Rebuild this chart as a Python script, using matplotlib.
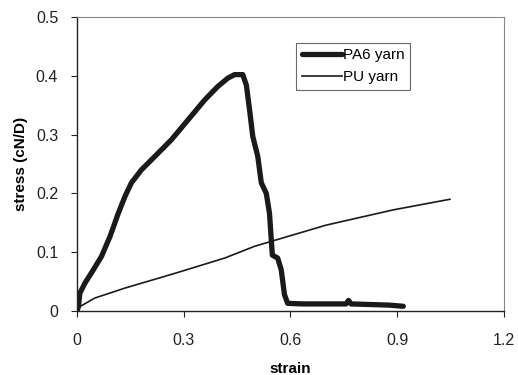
import numpy as np
import matplotlib.pyplot as plt

plt.rcParams['font.family'] = ['Liberation Sans', 'DejaVu Sans']

# PA6 yarn
pa6_strain = [0.0, 0.004, 0.008, 0.022, 0.046, 0.069, 0.093, 0.116, 0.135, 0.153,
              0.181, 0.219, 0.265, 0.312, 0.359, 0.396, 0.424, 0.443, 0.466, 0.476,
              0.485, 0.494, 0.508, 0.518, 0.532, 0.541, 0.546, 0.549, 0.564, 0.574,
              0.583, 0.592, 0.634, 0.700, 0.756, 0.763, 0.770, 0.877, 0.917]
pa6_stress = [0.0, 0.007, 0.030, 0.047, 0.070, 0.093, 0.127, 0.166, 0.195, 0.218,
              0.240, 0.263, 0.291, 0.325, 0.359, 0.382, 0.396, 0.402, 0.402, 0.384,
              0.342, 0.297, 0.263, 0.218, 0.200, 0.166, 0.121, 0.095, 0.090, 0.070,
              0.028, 0.013, 0.012, 0.012, 0.012, 0.018, 0.012, 0.010, 0.008]

# PU yarn
pu_strain = [0.0, 0.004, 0.050, 0.135, 0.275, 0.415, 0.499, 0.700, 0.889, 1.048]
pu_stress = [0.0, 0.006, 0.022, 0.039, 0.064, 0.090, 0.110, 0.146, 0.172, 0.190]

fig = plt.figure(figsize=(5.18, 3.75), dpi=100)
ax = fig.add_axes([0.1486, 0.1707, 0.8244, 0.784])

ax.plot(pa6_strain, pa6_stress, color='#1a1a1a', lw=3.8, solid_capstyle='round',
        solid_joinstyle='round', label='PA6 yarn')
ax.plot(pu_strain, pu_stress, color='#1a1a1a', lw=1.2, label='PU yarn')

ax.set_xlim(0, 1.2)
ax.set_ylim(0, 0.5)
ax.set_xticks([0, 0.3, 0.6, 0.9, 1.2])
ax.set_xticklabels(['0', '0.3', '0.6', '0.9', '1.2'])
ax.set_yticks([0, 0.1, 0.2, 0.3, 0.4, 0.5])
ax.set_yticklabels(['0', '0.1', '0.2', '0.3', '0.4', '0.5'])
ax.tick_params(direction='out', length=4, width=0.8, labelsize=11.5, colors='#222222')
ax.tick_params(axis='x', pad=12)
ax.tick_params(axis='y', pad=9.5)

for s in ['top', 'right']:
    ax.spines[s].set_linestyle((0, (2, 1)))
    ax.spines[s].set_color('#888888')
    ax.spines[s].set_linewidth(0.8)
for s in ['left', 'bottom']:
    ax.spines[s].set_color('#222222')
    ax.spines[s].set_linewidth(1.0)

ax.set_xlabel('strain', fontsize=11, fontweight='bold', labelpad=10)
ax.set_ylabel('stress (cN/D)', fontsize=11, fontweight='bold', labelpad=6)

leg = ax.legend(loc='upper left', bbox_to_anchor=(0.514, 0.913), fontsize=11,
                frameon=True, fancybox=False, edgecolor='#444444', handlelength=2.6,
                handletextpad=0.1, borderpad=0.35, labelspacing=0.55, borderaxespad=0)
leg.get_frame().set_linewidth(0.8)

fig.savefig('out.png', dpi=100)
